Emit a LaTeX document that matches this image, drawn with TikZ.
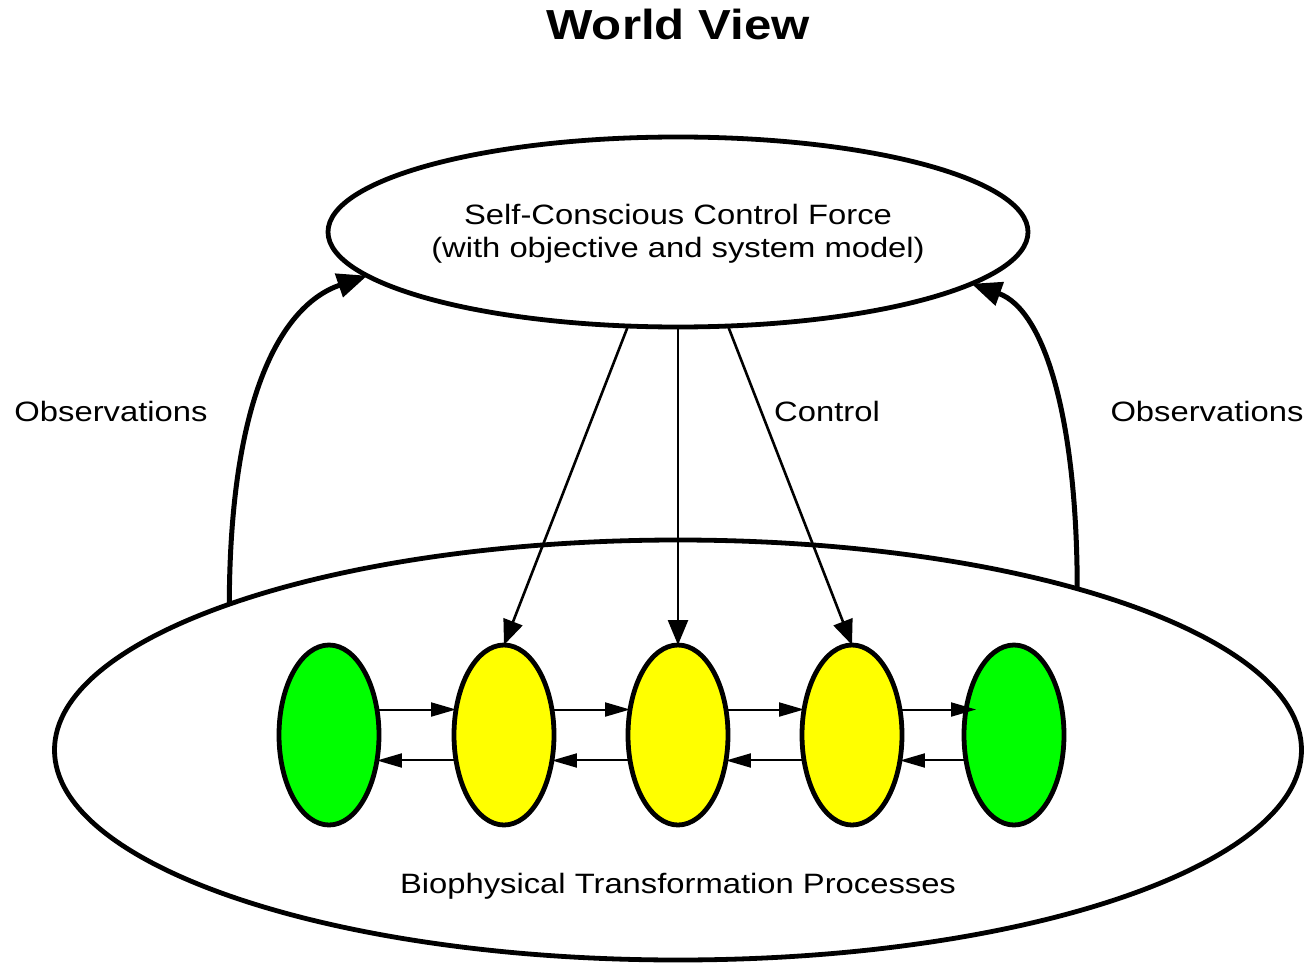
\documentclass[tikz,border=0pt]{standalone}
\usepackage{fontspec}
\setmainfont{Liberation Sans}[FakeStretch=1.17]
\usetikzlibrary{arrows.meta,shapes.geometric}

\begin{document}
\begin{tikzpicture}[x=1pt,y=-1pt,
  every node/.style={font=\fontsize{28}{33}\selectfont},
  oval/.style={ellipse, draw, line width=4.8pt, inner sep=0pt, outer sep=0pt},
  proc/.style={oval, minimum width=100pt, minimum height=180pt},
  flow/.style={line width=2pt, -{Triangle[length=25pt,width=14pt]}},
  ctrl/.style={line width=2.6pt, -{Triangle[length=25pt,width=20pt]}},
  obs/.style={line width=5pt, -{Triangle[length=30pt,width=24pt]}},
  lbl/.style={inner sep=0pt}
]
\useasboundingbox (0,0) rectangle (1307,963);

% title
\node[lbl, font=\fontsize{42}{48}\selectfont\bfseries] (title) at (678,24) {World View};

% controller
\node[oval, minimum width=700pt, minimum height=190pt, align=center] (force) at (678,232) {};
\node[lbl, align=center] (forcelabel) at (678,234)
  {Self-Conscious Control Force\\(with objective and system model)};

% system boundary
\node[oval, minimum width=1247pt, minimum height=420pt] (bio) at (678,750) {};
\node[lbl] (biolabel) at (678,886) {Biophysical Transformation Processes};

% process chain
\node[proc, fill={rgb,255:red,0;green,255;blue,0}] (p1) at (329,735) {};
\node[proc, fill={rgb,255:red,255;green,255;blue,0}] (p2) at (504,735) {};
\node[proc, fill={rgb,255:red,255;green,255;blue,0}] (p3) at (678,735) {};
\node[proc, fill={rgb,255:red,255;green,255;blue,0}] (p4) at (852,735) {};
\node[proc, fill={rgb,255:red,0;green,255;blue,0}] (p5) at (1014,735) {};

% forward and backward couplings
\draw[flow] (p1.28) -- (p2.152);
\draw[flow] (p2.28) -- (p3.152);
\draw[flow] (p3.28) -- (p4.152);
\draw[flow, shorten >=-10pt] (p4.28) -- (p5.152);
\draw[flow] (p2.208) -- (p1.-28);
\draw[flow] (p3.208) -- (p2.-28);
\draw[flow] (p4.208) -- (p3.-28);
\draw[flow] (p5.208) -- (p4.-28);

% control
\draw[ctrl] (force.242) -- (p2.north);
\draw[ctrl] (force.south) -- (p3.north);
\draw[ctrl] (force.298) -- (p4.north);
\node[lbl] (ctrllabel) at (827,411) {Control};

% observations
\draw[obs] (bio.162) .. controls (230,395) and (282,305) .. (force.188);
\draw[obs] (bio.22) .. controls (1077,420) and (1045,310) .. (force.-10);
\node[lbl] (obsleft) at (111,411) {Observations};
\node[lbl] (obsright) at (1207,411) {Observations};
\end{tikzpicture}
\end{document}
